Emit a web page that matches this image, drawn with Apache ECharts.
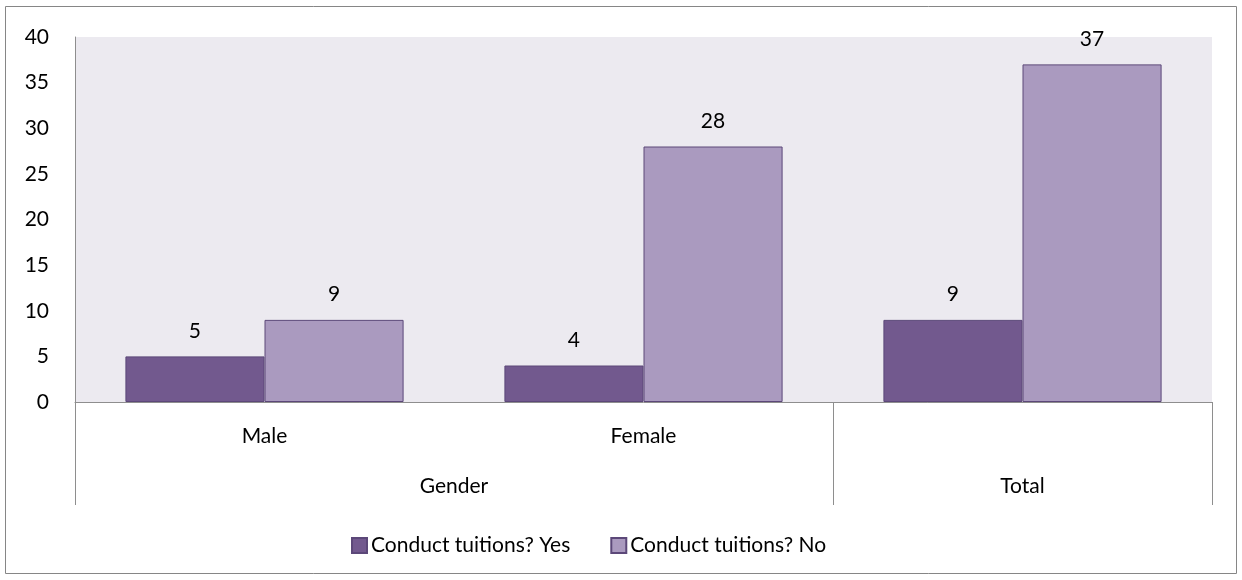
<!DOCTYPE html>
<html>
<head>
<meta charset="utf-8">
<script src="https://cdn.jsdelivr.net/npm/echarts@6/dist/echarts.min.js"></script>
<style>
  html, body { margin: 0; padding: 0; background: #fff; }
  #chart { width: 1242px; height: 580px; }
</style>
</head>
<body>
<div id="chart"></div>
<script>
// Categories and values
const categories = ['Male', 'Female', 'Total'];
// Inner axis labels (the Total column has only its group label)
const innerLabels = ['Male', 'Female', ''];
const seriesNames = ['Conduct tuitions? Yes', 'Conduct tuitions? No'];
const yesValues = [5, 4, 9];
const noValues = [9, 28, 37];
// Group level of the category axis: slots at half-category steps (0, 0.5, ... 3)
const groupSlots = ['', '', 'Gender', '', '', 'Total', ''];
const groupBoundaries = [0, 4, 6];
const yTicks = { min: 0, max: 40, interval: 5 };

const FONT = 'Lato, "Open Sans", sans-serif';
const FS = 21;
const chart = echarts.init(document.getElementById('chart'), null, { renderer: 'canvas' });

const labelStyle = {
  show: true, position: 'top', distance: 15,
  color: '#000', fontSize: FS, fontFamily: FONT
};

chart.setOption({
  animation: false,
  textStyle: { fontFamily: FONT },
  grid: {
    left: 75, right: 30, top: 37, bottom: 178,
    show: true, backgroundColor: '#ECEAF0', borderWidth: 0
  },
  legend: {
    data: seriesNames,
    top: 530, left: 346,
    icon: 'rect', itemWidth: 15, itemHeight: 15, itemGap: 40,
    textStyle: { color: '#000', fontSize: FS, fontFamily: FONT, padding: [0, 0, 0, -1] }
  },
  xAxis: [
    {
      type: 'category',
      data: categories,
      position: 'bottom',
      axisLine: { show: true, lineStyle: { color: '#8E8E8E', width: 1 } },
      axisTick: { show: false },
      axisLabel: {
        color: '#000', fontSize: FS, fontFamily: FONT, margin: 24,
        formatter: (v, i) => innerLabels[i]
      }
    },
    {
      type: 'category',
      data: groupSlots,
      boundaryGap: false,
      position: 'bottom',
      axisLine: { show: false },
      axisTick: {
        show: true, length: 103, inside: false,
        interval: (i) => groupBoundaries.includes(i),
        lineStyle: { color: '#8E8E8E', width: 1 }
      },
      axisLabel: {
        interval: 0, color: '#000', fontSize: FS, fontFamily: FONT, margin: 74
      }
    }
  ],
  yAxis: {
    type: 'value',
    min: yTicks.min, max: yTicks.max, interval: yTicks.interval,
    axisLine: { show: true, lineStyle: { color: '#8E8E8E', width: 1 } },
    axisTick: { show: false },
    splitLine: { show: false },
    axisLabel: { color: '#000', fontSize: FS, fontFamily: FONT, margin: 26 }
  },
  series: [
    {
      name: seriesNames[0], type: 'bar', data: yesValues,
      barGap: '0%', barCategoryGap: '26.6%',
      itemStyle: { color: '#72598E', borderColor: '#5C4879', borderWidth: 1 },
      label: labelStyle
    },
    {
      name: seriesNames[1], type: 'bar', data: noValues,
      barGap: '0%', barCategoryGap: '26.6%',
      itemStyle: { color: '#AA9ABF', borderColor: '#5C4879', borderWidth: 1 },
      label: labelStyle
    }
  ],
  graphic: [{
    type: 'rect', silent: true, z: -1,
    shape: { x: 5.5, y: 6.5, width: 1231, height: 567 },
    style: { fill: 'none', stroke: '#868686', lineWidth: 1 }
  }]
});
</script>
</body>
</html>
